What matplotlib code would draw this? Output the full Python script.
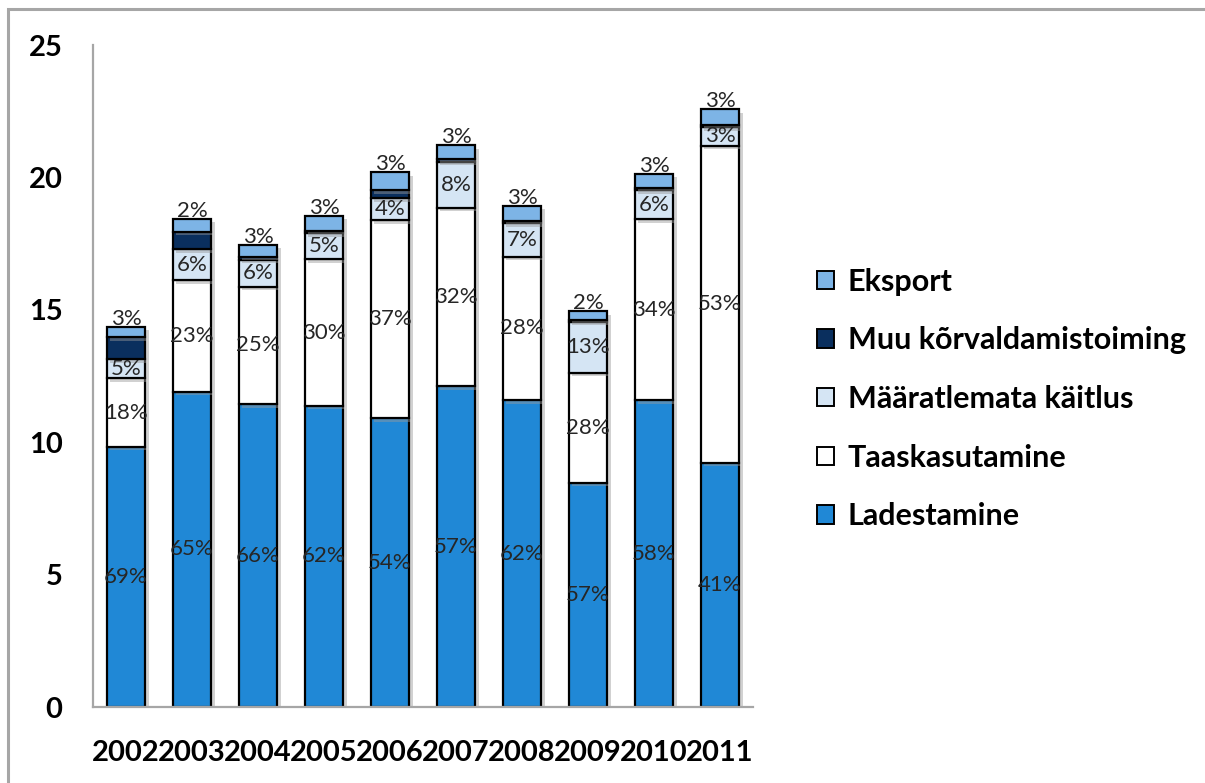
"""Stacked bar chart of waste handling by year (matplotlib, Agg, saved to out.png)."""

import matplotlib

matplotlib.use("Agg")

import matplotlib.patheffects as pe  # noqa: E402
import matplotlib.pyplot as plt  # noqa: E402
import numpy as np  # noqa: E402
from matplotlib.patches import Patch, Rectangle  # noqa: E402

years = ["2002", "2003", "2004", "2005", "2006", "2007", "2008", "2009", "2010", "2011"]

ladestamine = [9.82, 11.90, 11.44, 11.37, 10.91, 12.12, 11.59, 8.47, 11.59, 9.23]
taaskasutamine = [2.60, 4.22, 4.43, 5.54, 7.48, 6.74, 5.41, 4.15, 6.83, 11.97]
maaratlemata = [0.72, 1.17, 1.01, 0.98, 0.82, 1.73, 1.26, 1.93, 1.10, 0.69]
muu = [0.83, 0.66, 0.12, 0.10, 0.31, 0.09, 0.08, 0.05, 0.09, 0.09]
eksport = [0.38, 0.48, 0.45, 0.56, 0.68, 0.54, 0.59, 0.35, 0.52, 0.60]

# percent labels as printed on the chart
lad_pct = [69, 65, 66, 62, 54, 57, 62, 57, 58, 41]
taas_pct = [18, 23, 25, 30, 37, 32, 28, 28, 34, 53]
maar_pct = [5, 6, 6, 5, 4, 8, 7, 13, 6, 3]
eks_pct = [3, 2, 3, 3, 3, 3, 3, 2, 3, 3]

series = [
    ("Ladestamine", ladestamine, "#2088d6", lad_pct),
    ("Taaskasutamine", taaskasutamine, "#ffffff", taas_pct),
    ("Määratlemata käitlus", maaratlemata, "#d5e5f4", maar_pct),
    ("Muu kõrvaldamistoiming", muu, "#0a2f5e", None),
    ("Eksport", eksport, "#7db4e6", eks_pct),
]

FONT = "Lato"
W, H = 1205, 783
fig = plt.figure(figsize=(W / 100, H / 100), dpi=100)
fig.patch.set_facecolor("white")

# chart-area frame (only top and left edges fall inside the picture)
fig.patches.append(
    Rectangle((8 / W, -0.05), 1.2, 1 - 9 / H + 0.05, transform=fig.transFigure,
              fill=False, edgecolor="#a6a6a6", linewidth=2.2)
)

ax = fig.add_axes([93 / W, 1 - 707 / H, 660 / W, 662 / H])
x = np.arange(len(years))
bottom = np.zeros(len(years))
shadow = [pe.withSimplePatchShadow(offset=(2.5, -2.5), shadow_rgbFace="#999999", alpha=0.45)]

for name, vals, color, pct in series:
    vals = np.array(vals)
    bars = ax.bar(x, vals, width=0.59, bottom=bottom, color=color, edgecolor="black",
                  linewidth=1.6, label=name, zorder=2)
    for b in bars:
        b.set_path_effects(shadow)
    if pct is not None:
        for i, p in enumerate(pct):
            if name == "Eksport":
                y = bottom[i] + vals[i] + 0.3
            else:
                y = bottom[i] + vals[i] / 2
            ax.text(x[i], y, f"{p}%", ha="center", va="center", fontsize=16,
                    family=FONT, color="#262626", zorder=4)
    bottom += vals

ax.set_xlim(-0.5, len(years) - 0.5)
ax.set_ylim(0, 25)
ax.set_yticks([0, 5, 10, 15, 20, 25])
ax.set_xticks(x)
ax.set_xticklabels(years)
for side in ["top", "right"]:
    ax.spines[side].set_visible(False)
for side in ["left", "bottom"]:
    ax.spines[side].set_color("#a6a6a6")
    ax.spines[side].set_linewidth(1.6)
ax.tick_params(axis="both", length=0)
ax.tick_params(axis="y", pad=22)
ax.tick_params(axis="x", pad=24)
for lbl in ax.get_xticklabels() + ax.get_yticklabels():
    lbl.set_family(FONT)
    lbl.set_fontsize(21)
    lbl.set_fontweight("bold")
    lbl.set_color("black")

handles = [Patch(facecolor=c, edgecolor="black", linewidth=1.4, label=n)
           for n, _, c, _ in reversed(series)]
fig.legend(handles=handles, loc="center left", bbox_to_anchor=(817 / W, 1 - 399 / H),
           frameon=False, prop={"family": FONT, "weight": "bold", "size": 22},
           handlelength=0.55, handleheight=0.55, handletextpad=0.45,
           labelspacing=1.0, borderpad=0, borderaxespad=0)

fig.savefig("out.png", dpi=100, facecolor=fig.get_facecolor())
plt.close(fig)
